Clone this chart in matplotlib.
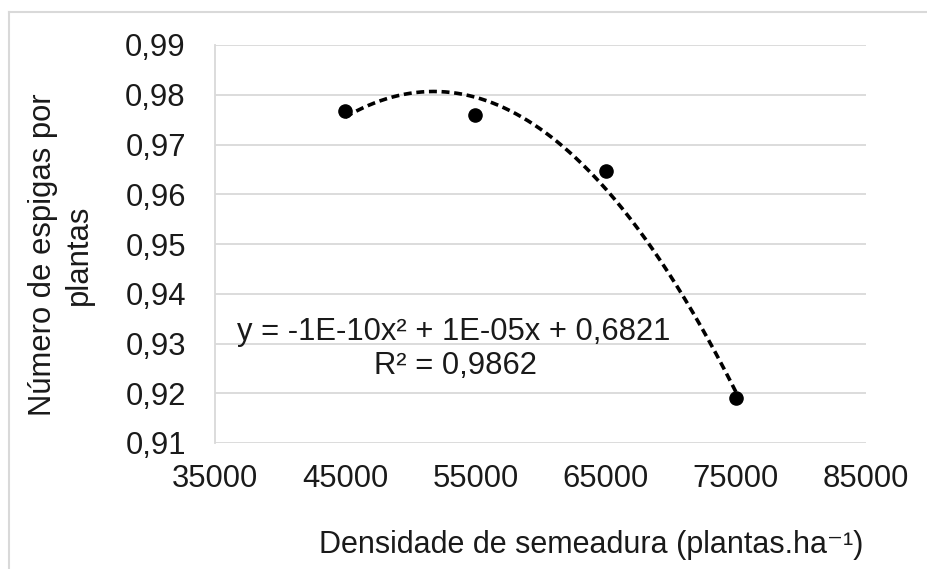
import numpy as np
import matplotlib
matplotlib.use("Agg")
import matplotlib.pyplot as plt
from matplotlib.lines import Line2D

plt.rcParams['font.family'] = ['Liberation Sans', 'DejaVu Sans']

densidade = [45000, 55000, 65000, 75000]
espigas = [0.9767, 0.9759, 0.9647, 0.9191]
x_ticks = [35000, 45000, 55000, 65000, 75000, 85000]
y_ticks = [0.91, 0.92, 0.93, 0.94, 0.95, 0.96, 0.97, 0.98, 0.99]
equation = "y = -1E-10x² + 1E-05x + 0,6821"
r2_text = "R² = 0,9862"

W, H = 928, 569
fig = plt.figure(figsize=(W / 100, H / 100), dpi=100)
ax = fig.add_axes([215 / W, 1 - 443 / H, (866 - 215) / W, (443 - 45) / H])

txt_c = '#1a1a1a'
grid_c = '#d9d9d9'
fs = 22.3
ax.set_xlim(35000, 85000)
ax.set_ylim(0.91, 0.99)
ax.set_yticks(y_ticks)
ax.set_xticks(x_ticks)
ax.set_yticklabels([f"{v:.2f}".replace('.', ',') for v in y_ticks])
ax.set_xticklabels([str(v) for v in x_ticks])
ax.yaxis.grid(True, color=grid_c, linewidth=1.3)
ax.set_axisbelow(True)
for s in ['top', 'right', 'bottom']:
    ax.spines[s].set_visible(False)
ax.spines['left'].set_color(grid_c)
ax.spines['left'].set_linewidth(1.3)
ax.tick_params(axis='both', length=0, labelsize=fs, colors=txt_c)
ax.tick_params(axis='y', pad=21)
ax.tick_params(axis='x', pad=15)

# trendline (quadratic fit of the data, like Excel)
coef = np.polyfit(densidade, espigas, 2)
xs = np.linspace(min(densidade), max(densidade), 200)
ax.plot(xs, np.polyval(coef, xs), linestyle=(0, (2.2, 1.3)), color='black', linewidth=2.6)
ax.scatter(densidade, espigas, s=90, color='black', zorder=3)

ax.text(454 / W, 1 - 332 / H, equation, transform=fig.transFigure, ha='center', va='center',
        fontsize=fs, color=txt_c)
ax.text(455 / W, 1 - 366 / H, r2_text, transform=fig.transFigure, ha='center', va='center',
        fontsize=fs, color=txt_c)

fig.text(61 / W, 1 - 255 / H, "Número de espigas por\nplantas", rotation=90, ha='center',
         va='center', fontsize=fs, color=txt_c, linespacing=1.3, multialignment='center')
fig.text(591 / W, 1 - 545 / H, "Densidade de semeadura (plantas.ha⁻¹)", ha='center',
         va='center', fontsize=22, color=txt_c)

# outer chart border (left and top)
fig.add_artist(Line2D([9 / W, 9 / W], [0, 1 - 12 / H], transform=fig.transFigure, color=grid_c, linewidth=1.5))
fig.add_artist(Line2D([9 / W, 1], [1 - 12 / H, 1 - 12 / H], transform=fig.transFigure, color=grid_c, linewidth=1.5))

fig.savefig("out.png", dpi=100)
